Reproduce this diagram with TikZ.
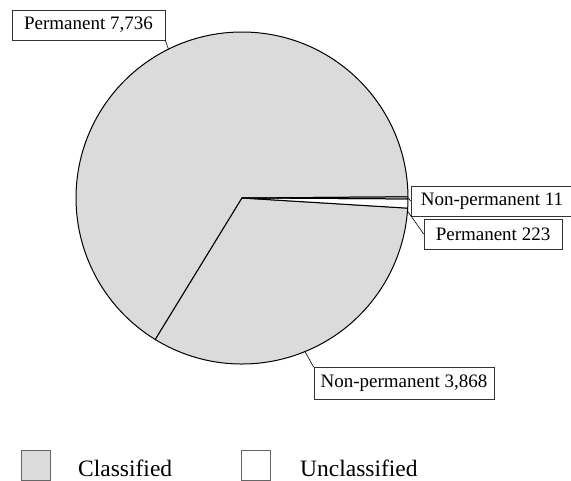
\documentclass[tikz,border=0pt]{standalone}
\usepackage{fontspec}
\setmainfont{Liberation Serif}
\usetikzlibrary{calc}
\begin{document}
\begin{tikzpicture}[x=1pt,y=1pt,
  classfill/.style={fill=black!14},
  unclassfill/.style={fill=white},
  sliceline/.style={draw=black,line width=1pt,line join=round},
  labelbox/.style={draw=black!80,line width=0.6pt,fill=white,inner sep=0pt,minimum height=30pt,
     font=\fontsize{19}{21}\selectfont},
  leader/.style={draw=black,line width=0.6pt},
  legendbox/.style={draw=black!60,line width=0.6pt,minimum width=29pt,minimum height=30pt,inner sep=0pt},
  legendtext/.style={font=\fontsize{23.5}{26}\selectfont,anchor=west,inner sep=0pt}]
\useasboundingbox (0,0) rectangle (571,480);
\coordinate (c) at (242,282);
\def\R{166}
% slices
\path[classfill,sliceline] (c) -- ++(0.4:\R) arc[start angle=0.4, end angle=238.5, radius=\R] -- cycle;
\path[classfill,sliceline] (c) -- ++(238.5:\R) arc[start angle=238.5, end angle=356.5, radius=\R] -- cycle;
\path[unclassfill,sliceline] (c) -- ++(-3.5:\R) arc[start angle=-3.5, end angle=-0.3, radius=\R] -- cycle;
\path[classfill,sliceline] (c) -- ++(-0.3:\R) arc[start angle=-0.3, end angle=0.4, radius=\R] -- cycle;
% anchor points on the rim
\coordinate (p1) at ($(c)+(116.3:\R)$);
\coordinate (p2) at ($(c)+(0:\R)$);
\coordinate (p3) at ($(c)+(-4.5:\R)$);
\coordinate (p4) at ($(c)+(-67.7:\R)$);
% labels
\node[labelbox,minimum width=153pt] (b1) at (88.5,455) {Permanent 7,736};
\node[labelbox,minimum width=162pt] (b2) at (492,279) {Non-permanent 11};
\node[labelbox,minimum width=138pt] (b3) at (493,246) {Permanent 223};
\node[labelbox,minimum width=180pt,minimum height=32pt] (b4) at (404,96.5) {Non-permanent 3,868};
% leaders
\draw[leader] (b1.south east) -- (p1);
\draw[leader] (p2) -- (b2.west);
\draw[leader] (p3) -- (b3.west);
\draw[leader] (p4) -- (b4.north west);
% legend
\node[legendbox,classfill] (l1) at (35.5,15) {};
\node[legendtext] (t1) at (78,12) {Classified};
\node[legendbox,fill=white] (l2) at (256,15) {};
\node[legendtext] (t2) at (300,12) {Unclassified};
\end{tikzpicture}
\end{document}
